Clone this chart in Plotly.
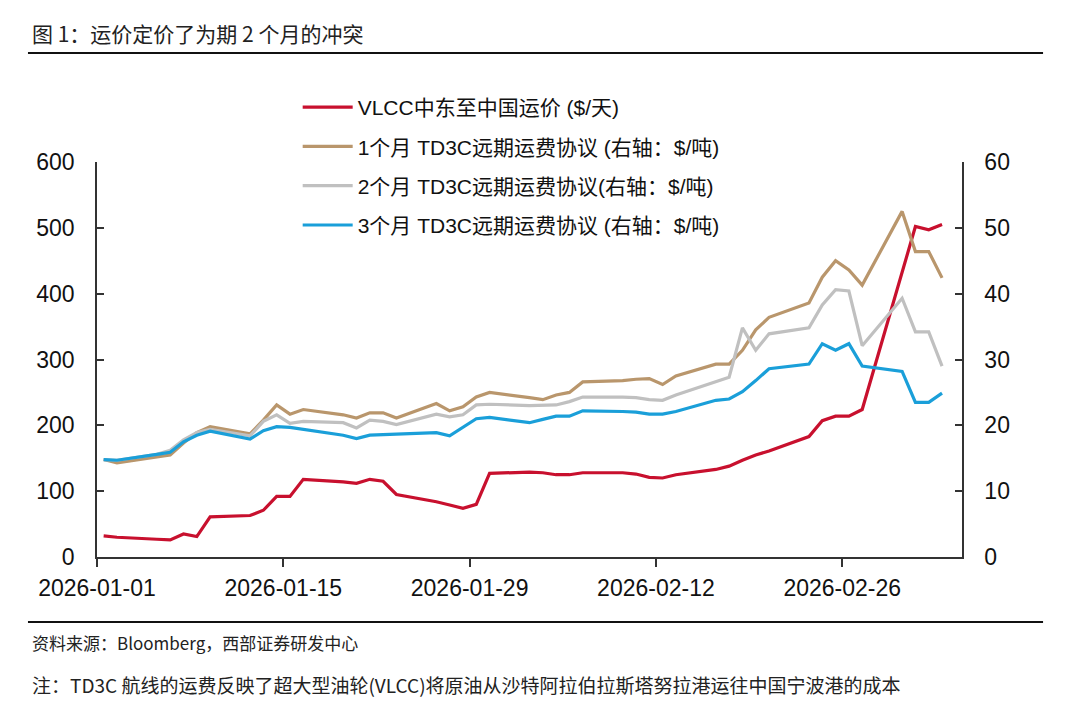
import pandas as pd
import plotly.graph_objects as go

# ---- data ----
dates = [
    "2026-01-01", "2026-01-02", "2026-01-05", "2026-01-06", "2026-01-07", "2026-01-08", "2026-01-09",
    "2026-01-12", "2026-01-13", "2026-01-14", "2026-01-15", "2026-01-16",
    "2026-01-19", "2026-01-20", "2026-01-21", "2026-01-22", "2026-01-23",
    "2026-01-26", "2026-01-27", "2026-01-28", "2026-01-29", "2026-01-30",
    "2026-02-02", "2026-02-03", "2026-02-04", "2026-02-05", "2026-02-06",
    "2026-02-09", "2026-02-10", "2026-02-11", "2026-02-12", "2026-02-13",
    "2026-02-16", "2026-02-17", "2026-02-18", "2026-02-19", "2026-02-20",
    "2026-02-23", "2026-02-24", "2026-02-25", "2026-02-26", "2026-02-27",
    "2026-03-02", "2026-03-03", "2026-03-04", "2026-03-05",
]
vlcc = [32, 30, 27, 26, 35, 31, 61,
        63, 71, 92, 92, 118,
        114, 112, 118, 115, 95,
        84, 79, 74, 80, 127,
        129, 128, 125, 125, 128,
        128, 126, 121, 120, 125,
        133, 138, 147, 155, 161,
        183, 207, 214, 214, 224,
        None, 502, 497, 505]
td3c_1m = [14.8, 14.3, 15.2, 15.5, 17.3, 18.9, 19.8,
           18.7, 20.8, 23.1, 21.7, 22.4,
           21.6, 21.1, 21.9, 21.9, 21.1,
           23.3, 22.2, 22.8, 24.3, 25.0,
           24.2, 23.9, 24.6, 25.0, 26.6,
           26.8, 27.0, 27.1, 26.2, 27.5,
           29.3, 29.3, 31.4, 34.5, 36.4,
           38.6, 42.5, 45.0, 43.6, 41.3,
           52.5, 46.4, 46.4, 42.4]
td3c_2m = [14.8, 14.7, 15.6, 16.2, 17.8, 18.9, 19.4,
           18.4, 20.6, 21.6, 20.3, 20.6,
           20.4, 19.6, 20.8, 20.6, 20.1,
           21.7, 21.3, 21.6, 23.1, 23.2,
           23.0, 23.0, 23.1, 23.6, 24.3,
           24.3, 24.2, 23.9, 23.8, 24.6,
           26.6, 27.3, 34.8, 31.4, 33.9,
           34.8, 38.3, 40.6, 40.4, 32.1,
           39.3, 34.2, 34.2, 29.0]
td3c_3m = [14.8, 14.7, 15.6, 15.9, 17.5, 18.5, 19.1,
           17.9, 19.2, 19.8, 19.7, 19.4,
           18.5, 18.0, 18.5, 18.6, 18.7,
           18.9, 18.4, 19.7, 21.0, 21.2,
           20.4, 20.9, 21.4, 21.4, 22.2,
           22.1, 22.0, 21.7, 21.7, 22.1,
           23.8, 24.0, 25.1, 26.8, 28.6,
           29.3, 32.4, 31.4, 32.4, 29.0,
           28.2, 23.5, 23.5, 24.9]
tick_dates = ["2026-01-01", "2026-01-15", "2026-01-29", "2026-02-12", "2026-02-26"]

names = [
    "VLCC中东至中国运价 ($/天)",
    "1个月 TD3C远期运费协议 (右轴：$/吨)",
    "2个月 TD3C远期运费协议(右轴：$/吨)",
    "3个月 TD3C远期运费协议 (右轴：$/吨)",
]
title_text = "图 1：运价定价了为期 2 个月的冲突"
source_text = "资料来源：Bloomberg，西部证券研发中心"
note_text = "注：TD3C 航线的运费反映了超大型油轮(VLCC)将原油从沙特阿拉伯拉斯塔努拉港运往中国宁波港的成本"

# ---- build ----
# Excel-style date axis: points sit in the middle of their day
x = pd.to_datetime(pd.Series(dates)) + pd.Timedelta(hours=12)

colors = ["#C8102E", "#B9966C", "#C0C0C0", "#1A9FD9"]
series = [vlcc, td3c_1m, td3c_2m, td3c_3m]
axes = ["y", "y2", "y2", "y2"]

fig = go.Figure()
for i, (vals, nm, col, ax) in enumerate(zip(series, names, colors, axes)):
    fig.add_trace(go.Scatter(
        x=x, y=vals, name=nm, mode="lines", yaxis=ax,
        line=dict(color=col, width=3.2), connectgaps=True,
        legendgroup=f"g{i}",
    ))

tick_font = dict(family="Liberation Sans, Arial, sans-serif", size=23, color="#111111")
cjk = "Liberation Sans, Noto Sans CJK SC, sans-serif"

fig.update_layout(
    width=1072, height=708, autosize=False,
    margin=dict(l=89, r=118, t=154, b=159),
    paper_bgcolor="white", plot_bgcolor="white",
    showlegend=True,
    legend=dict(
        x=0.232, y=1.19, xanchor="left", yanchor="top",
        font=dict(family=cjk, size=21, color="#111111"),
        bgcolor="rgba(0,0,0,0)", borderwidth=0,
        traceorder="grouped", tracegroupgap=9, itemwidth=50,
    ),
    xaxis=dict(
        type="date", range=["2026-01-01", "2026-03-07"],
        tickvals=tick_dates, tickformat="%Y-%m-%d",
        showline=True, linecolor="#333333", linewidth=1.5,
        ticks="outside", ticklen=8, tickcolor="#333333", tickwidth=1.5,
        showgrid=False, zeroline=False, tickfont=tick_font,
        ticklabelstandoff=2,
    ),
    yaxis=dict(
        range=[0, 600], dtick=100,
        showline=True, linecolor="#333333", linewidth=1.5,
        ticks="inside", ticklen=7, tickcolor="#333333", tickwidth=1.5,
        showgrid=False, zeroline=False, tickfont=tick_font,
        ticklabelstandoff=16,
    ),
    yaxis2=dict(
        range=[0, 60], dtick=10, overlaying="y", side="right",
        showline=True, linecolor="#333333", linewidth=1.5,
        ticks="inside", ticklen=7, tickcolor="#333333", tickwidth=1.5,
        showgrid=False, zeroline=False, tickfont=tick_font,
        ticklabelstandoff=16,
    ),
)

# Title, rules and footnotes
fig.add_annotation(text=title_text, xref="paper", yref="paper", x=-0.0775, y=1.3266,
                   xanchor="left", yanchor="middle", showarrow=False,
                   font=dict(family="Noto Sans CJK SC, sans-serif", size=21, color="#222222"))
fig.add_shape(type="line", xref="paper", yref="paper", x0=-0.0798, x1=1.0937, y0=1.276, y1=1.276,
              line=dict(color="#111111", width=2.2))
fig.add_shape(type="line", xref="paper", yref="paper", x0=-0.0798, x1=1.0937, y0=-0.1646, y1=-0.1646,
              line=dict(color="#111111", width=2.2))
fig.add_annotation(text=source_text, xref="paper", yref="paper", x=-0.0775, y=-0.2177,
                   xanchor="left", yanchor="middle", showarrow=False,
                   font=dict(family="Noto Sans CJK SC, sans-serif", size=17, color="#222222"))
fig.add_annotation(text=note_text, xref="paper", yref="paper", x=-0.0775, y=-0.324,
                   xanchor="left", yanchor="middle", showarrow=False,
                   font=dict(family="Noto Sans CJK SC, sans-serif", size=19, color="#222222"))

fig.write_html("out.html")
